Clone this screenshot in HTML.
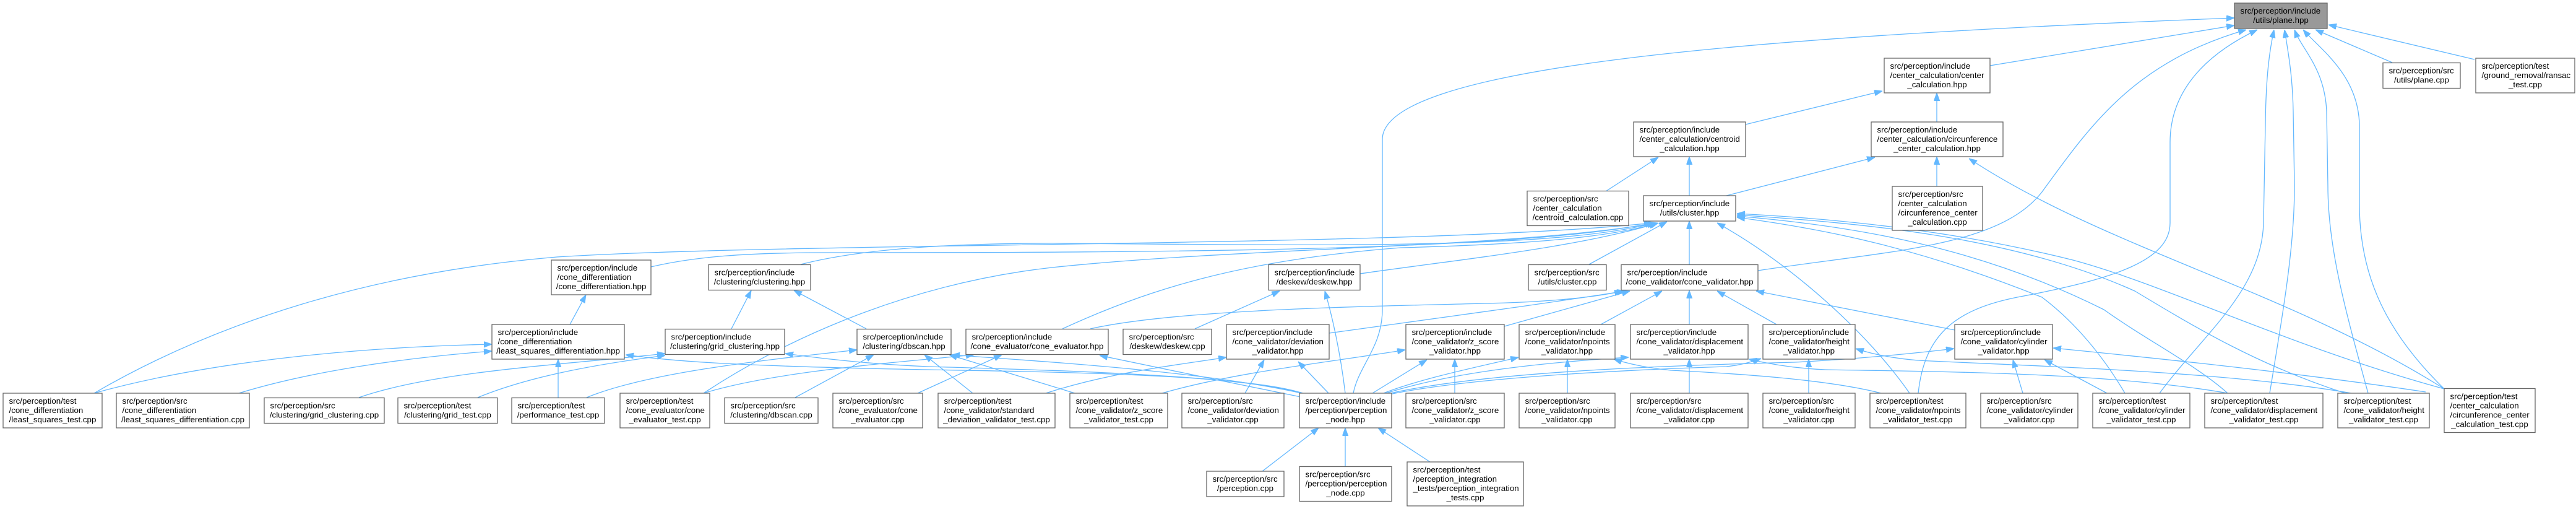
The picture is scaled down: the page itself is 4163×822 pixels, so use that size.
<!DOCTYPE html>
<html><head><meta charset="utf-8"><style>
html,body{margin:0;padding:0;background:#fff;width:4163px;height:822px;overflow:hidden}
svg{display:block}
.n rect{fill:#fff;stroke:#666;stroke-width:1.3}
.n text{font-family:"Liberation Sans",Arial,sans-serif;font-size:13.33px;fill:#000}
.n text.c{text-anchor:middle}
.e path{fill:none;stroke:#63b8ff;stroke-width:1.3}
</style></head><body>
<svg width="4163" height="822" viewBox="0 0 4163 822" xmlns="http://www.w3.org/2000/svg">
<defs><marker id="a" markerWidth="13" markerHeight="10" refX="13" refY="4.7" orient="auto" markerUnits="userSpaceOnUse"><path d="M0,0 L13,4.7 L0,9.4 z" fill="#63b8ff" stroke="#63b8ff" stroke-width="1"/></marker></defs>
<g class="e" marker-end="url(#a)">
<path marker-end="url(#a)" d="M2187,635 C2196,590 2234,560 2234,500 L2234,225 C2234,110 2800,60 3611,29"/>
<path marker-end="url(#a)" d="M3216,106 L3611,41"/>
<path marker-end="url(#a)" d="M2841,437 C3050,405 3230,400 3300,310 C3380,200 3450,100 3630,48"/>
<path marker-end="url(#a)" d="M3100,635 C3110,540 3160,500 3260,480 C3420,450 3507,420 3507,360 L3507,230 C3507,150 3560,90 3648,48"/>
<path marker-end="url(#a)" d="M3490,635 C3560,540 3655,470 3658,360 L3661,200 C3662,120 3668,80 3675,48"/>
<path marker-end="url(#a)" d="M3668,635 C3690,500 3708,400 3708,300 L3706,180 C3705,120 3697,80 3692,48"/>
<path marker-end="url(#a)" d="M3827,635 C3790,500 3762,400 3762,300 L3760,180 C3757,110 3720,80 3708,48"/>
<path marker-end="url(#a)" d="M3950,628 C3860,540 3813,450 3813,330 L3813,200 C3810,120 3750,80 3722,48"/>
<path marker-end="url(#a)" d="M3866,101 L3742,48"/>
<path marker-end="url(#a)" d="M3999,96 L3763,40"/>
<path marker-end="url(#a)" d="M3130,197 L3130,150"/>
<path marker-end="url(#a)" d="M2821,201 L3042,147"/>
<path marker-end="url(#a)" d="M2595,309 L2680,254"/>
<path marker-end="url(#a)" d="M2730,316 L2730,253"/>
<path marker-end="url(#a)" d="M2790,316 L3030,254"/>
<path marker-end="url(#a)" d="M3130,301 L3130,253"/>
<path marker-end="url(#a)" d="M3950,628 C3700,470 3400,400 3182,256"/>
<path marker-end="url(#a)" d="M2568,427 L2694,358"/>
<path marker-end="url(#a)" d="M2730,427 L2730,357"/>
<path marker-end="url(#a)" d="M152,635 C350,520 600,440 900,415 C1300,390 2300,400 2670,360"/>
<path marker-end="url(#a)" d="M1052,431 C1120,415 1200,408 1340,408 C1900,408 2450,405 2672,360"/>
<path marker-end="url(#a)" d="M1294,427 C1400,400 1550,393 1700,393 C2100,395 2500,405 2675,360"/>
<path marker-end="url(#a)" d="M1717,531 C1850,470 2000,420 2264,400 C2450,395 2600,385 2678,360"/>
<path marker-end="url(#a)" d="M2198,442 C2350,420 2550,400 2680,360"/>
<path marker-end="url(#a)" d="M1137,635 C1250,560 1450,460 1700,432 C2000,400 2450,400 2677,360"/>
<path marker-end="url(#a)" d="M3086,635 C3020,540 2900,430 2775,360"/>
<path marker-end="url(#a)" d="M3434,635 C3390,560 3340,510 3300,480 C3100,400 2950,370 2807,351"/>
<path marker-end="url(#a)" d="M3600,635 C3550,590 3470,550 3400,500 C3200,400 3000,365 2807,349"/>
<path marker-end="url(#a)" d="M3790,635 C3650,590 3550,530 3450,470 C3250,380 3000,360 2807,347"/>
<path marker-end="url(#a)" d="M3950,628 C3700,560 3500,460 3350,420 C3150,370 2950,352 2807,345"/>
<path marker-end="url(#a)" d="M2148,538 C2350,510 2500,490 2626,470"/>
<path marker-end="url(#a)" d="M2431,527 L2634,470"/>
<path marker-end="url(#a)" d="M2587,524 L2686,470"/>
<path marker-end="url(#a)" d="M2730,524 L2730,469"/>
<path marker-end="url(#a)" d="M2871,524 L2775,470"/>
<path marker-end="url(#a)" d="M3159,533 L2838,470"/>
<path marker-end="url(#a)" d="M1762,531 C1900,500 2200,495 2400,490 C2500,488 2580,480 2622,470"/>
<path marker-end="url(#a)" d="M1931,531 L2068,470"/>
<path marker-end="url(#a)" d="M2174,635 C2165,560 2150,500 2141,470"/>
<path marker-end="url(#a)" d="M2105,635 C2000,600 1600,600 1400,595 C1200,590 1100,585 1011,573"/>
<path marker-end="url(#a)" d="M2106,635 C2000,605 1700,598 1500,592 C1400,588 1320,578 1269,571"/>
<path marker-end="url(#a)" d="M2108,636 C1950,600 1700,585 1538,573"/>
<path marker-end="url(#a)" d="M2102,641 C2000,620 1850,590 1777,574"/>
<path marker-end="url(#a)" d="M2147,635 L2098,584"/>
<path marker-end="url(#a)" d="M2218,635 L2306,581"/>
<path marker-end="url(#a)" d="M2236,635 C2300,610 2400,590 2454,577"/>
<path marker-end="url(#a)" d="M2240,635 C2350,600 2500,585 2632,577"/>
<path marker-end="url(#a)" d="M2243,636 C2400,600 2700,590 2900,585 C3000,580 3100,570 3158,563"/>
<path marker-end="url(#a)" d="M2245,637 C2400,605 2700,595 2790,592 C2810,590 2830,585 2846,579"/>
<path marker-end="url(#a)" d="M3800,635 C3600,600 3300,592 3100,582 C3050,578 3020,570 2999,563"/>
<path marker-end="url(#a)" d="M3600,635 C3400,600 3100,600 2950,597 C2900,595 2860,588 2826,580"/>
<path marker-end="url(#a)" d="M3040,635 C2950,612 2800,603 2700,598 C2660,594 2630,587 2608,580"/>
<path marker-end="url(#a)" d="M3405,635 L3304,581"/>
<path marker-end="url(#a)" d="M3269,635 L3253,581"/>
<path marker-end="url(#a)" d="M3920,633 C3700,600 3450,575 3318,562"/>
<path marker-end="url(#a)" d="M2923,635 L2923,580"/>
<path marker-end="url(#a)" d="M2730,635 L2730,580"/>
<path marker-end="url(#a)" d="M2533,635 L2533,580"/>
<path marker-end="url(#a)" d="M2351,635 L2351,580"/>
<path marker-end="url(#a)" d="M2012,635 L2043,581"/>
<path marker-end="url(#a)" d="M1690,635 C1800,600 1900,590 1982,577"/>
<path marker-end="url(#a)" d="M1878,635 C2000,600 2150,585 2271,565"/>
<path marker-end="url(#a)" d="M1572,635 L1494,573"/>
<path marker-end="url(#a)" d="M1737,635 L1534,573"/>
<path marker-end="url(#a)" d="M1483,635 L1619,573"/>
<path marker-end="url(#a)" d="M1285,642 L1412,573"/>
<path marker-end="url(#a)" d="M1400,531 L1283,469"/>
<path marker-end="url(#a)" d="M1182,531 L1214,469"/>
<path marker-end="url(#a)" d="M580,642 C700,600 900,590 1075,571"/>
<path marker-end="url(#a)" d="M772,642 C850,610 950,590 1075,574"/>
<path marker-end="url(#a)" d="M902,642 L902,580"/>
<path marker-end="url(#a)" d="M948,642 C1050,600 1250,580 1385,565"/>
<path marker-end="url(#a)" d="M152,635 C350,580 600,560 795,556"/>
<path marker-end="url(#a)" d="M386,635 C500,600 650,578 795,567"/>
<path marker-end="url(#a)" d="M921,524 L947,476"/>
<path marker-end="url(#a)" d="M1137,635 C1250,600 1450,585 1574,573"/>
<path marker-end="url(#a)" d="M2040,761 L2131,691"/>
<path marker-end="url(#a)" d="M2174,753 L2174,691"/>
<path marker-end="url(#a)" d="M2311,746 L2227,691"/>
</g>
<g class="n">
<rect x="3611" y="5" width="150" height="41" style="fill:#999"/>
<text x="3620.5" y="22">src/perception/include</text><text class="c" x="3686" y="37">/utils/plane.hpp</text>

<rect x="3045" y="94" width="171" height="56"/>
<text x="3054.5" y="111">src/perception/include</text><text x="3054.5" y="126">/center_calculation/center</text><text class="c" x="3130.5" y="141">_calculation.hpp</text>

<rect x="3851" y="101.5" width="125" height="41"/>
<text x="3860.5" y="118.5">src/perception/src</text><text class="c" x="3913.5" y="133.5">/utils/plane.cpp</text>

<rect x="4001" y="94" width="160" height="56"/>
<text x="4010.5" y="111">src/perception/test</text><text x="4010.5" y="126">/ground_removal/ransac</text><text class="c" x="4081" y="141">_test.cpp</text>

<rect x="2640" y="197" width="181" height="56"/>
<text x="2649.5" y="214">src/perception/include</text><text x="2649.5" y="229">/center_calculation/centroid</text><text class="c" x="2730.5" y="244">_calculation.hpp</text>

<rect x="3024" y="197" width="213" height="56"/>
<text x="3033.5" y="214">src/perception/include</text><text x="3033.5" y="229">/center_calculation/circunference</text><text class="c" x="3130.5" y="244">_center_calculation.hpp</text>

<rect x="2468" y="308.5" width="164" height="56"/>
<text x="2477.5" y="325.5">src/perception/src</text><text x="2477.5" y="340.5">/center_calculation</text><text class="c" x="2550" y="355.5">/centroid_calculation.cpp</text>

<rect x="2656" y="316" width="149" height="41"/>
<text x="2665.5" y="333">src/perception/include</text><text class="c" x="2730.5" y="348">/utils/cluster.hpp</text>

<rect x="3058" y="301" width="146" height="71"/>
<text x="3067.5" y="318">src/perception/src</text><text x="3067.5" y="333">/center_calculation</text><text x="3067.5" y="348">/circunference_center</text><text class="c" x="3131" y="363">_calculation.cpp</text>

<rect x="891" y="420" width="161" height="56"/>
<text x="900.5" y="437">src/perception/include</text><text x="900.5" y="452">/cone_differentiation</text><text class="c" x="971.5" y="467">/cone_differentiation.hpp</text>

<rect x="1145" y="427.5" width="165" height="41"/>
<text x="1154.5" y="444.5">src/perception/include</text><text class="c" x="1227.5" y="459.5">/clustering/clustering.hpp</text>

<rect x="2050" y="427.5" width="148" height="41"/>
<text x="2059.5" y="444.5">src/perception/include</text><text class="c" x="2124" y="459.5">/deskew/deskew.hpp</text>

<rect x="2470" y="427.5" width="126" height="41"/>
<text x="2479.5" y="444.5">src/perception/src</text><text class="c" x="2533" y="459.5">/utils/cluster.cpp</text>

<rect x="2620" y="427.5" width="221" height="41"/>
<text x="2629.5" y="444.5">src/perception/include</text><text class="c" x="2730.5" y="459.5">/cone_validator/cone_validator.hpp</text>

<rect x="795" y="524" width="214" height="56"/>
<text x="804.5" y="541">src/perception/include</text><text x="804.5" y="556">/cone_differentiation</text><text class="c" x="902" y="571">/least_squares_differentiation.hpp</text>

<rect x="1075" y="531.5" width="193" height="41"/>
<text x="1084.5" y="548.5">src/perception/include</text><text class="c" x="1171.5" y="563.5">/clustering/grid_clustering.hpp</text>

<rect x="1385" y="531.5" width="152" height="41"/>
<text x="1394.5" y="548.5">src/perception/include</text><text class="c" x="1461" y="563.5">/clustering/dbscan.hpp</text>

<rect x="1561" y="531.5" width="230" height="41"/>
<text x="1570.5" y="548.5">src/perception/include</text><text class="c" x="1676" y="563.5">/cone_evaluator/cone_evaluator.hpp</text>

<rect x="1815" y="531.5" width="143" height="41"/>
<text x="1824.5" y="548.5">src/perception/src</text><text class="c" x="1886.5" y="563.5">/deskew/deskew.cpp</text>

<rect x="1982" y="524" width="166" height="56"/>
<text x="1991.5" y="541">src/perception/include</text><text x="1991.5" y="556">/cone_validator/deviation</text><text class="c" x="2065" y="571">_validator.hpp</text>

<rect x="2272" y="524" width="159" height="56"/>
<text x="2281.5" y="541">src/perception/include</text><text x="2281.5" y="556">/cone_validator/z_score</text><text class="c" x="2351.5" y="571">_validator.hpp</text>

<rect x="2455" y="524" width="155" height="56"/>
<text x="2464.5" y="541">src/perception/include</text><text x="2464.5" y="556">/cone_validator/npoints</text><text class="c" x="2532.5" y="571">_validator.hpp</text>

<rect x="2635" y="524" width="190" height="56"/>
<text x="2644.5" y="541">src/perception/include</text><text x="2644.5" y="556">/cone_validator/displacement</text><text class="c" x="2730" y="571">_validator.hpp</text>

<rect x="2849" y="524" width="149" height="56"/>
<text x="2858.5" y="541">src/perception/include</text><text x="2858.5" y="556">/cone_validator/height</text><text class="c" x="2923.5" y="571">_validator.hpp</text>

<rect x="3159" y="524" width="158" height="56"/>
<text x="3168.5" y="541">src/perception/include</text><text x="3168.5" y="556">/cone_validator/cylinder</text><text class="c" x="3238" y="571">_validator.hpp</text>

<rect x="5" y="635" width="160" height="56"/>
<text x="14.5" y="652">src/perception/test</text><text x="14.5" y="667">/cone_differentiation</text><text class="c" x="85" y="682">/least_squares_test.cpp</text>

<rect x="188" y="635" width="215" height="56"/>
<text x="197.5" y="652">src/perception/src</text><text x="197.5" y="667">/cone_differentiation</text><text class="c" x="295.5" y="682">/least_squares_differentiation.cpp</text>

<rect x="427" y="642.5" width="194" height="41"/>
<text x="436.5" y="659.5">src/perception/src</text><text class="c" x="524" y="674.5">/clustering/grid_clustering.cpp</text>

<rect x="643" y="642.5" width="161" height="41"/>
<text x="652.5" y="659.5">src/perception/test</text><text class="c" x="723.5" y="674.5">/clustering/grid_test.cpp</text>

<rect x="827" y="642.5" width="150" height="41"/>
<text x="836.5" y="659.5">src/perception/test</text><text class="c" x="902" y="674.5">/performance_test.cpp</text>

<rect x="1002" y="635" width="145" height="56"/>
<text x="1011.5" y="652">src/perception/test</text><text x="1011.5" y="667">/cone_evaluator/cone</text><text class="c" x="1074.5" y="682">_evaluator_test.cpp</text>

<rect x="1171" y="642.5" width="151" height="41"/>
<text x="1180.5" y="659.5">src/perception/src</text><text class="c" x="1246.5" y="674.5">/clustering/dbscan.cpp</text>

<rect x="1346" y="635" width="145" height="56"/>
<text x="1355.5" y="652">src/perception/src</text><text x="1355.5" y="667">/cone_evaluator/cone</text><text class="c" x="1418.5" y="682">_evaluator.cpp</text>

<rect x="1516" y="635" width="189" height="56"/>
<text x="1525.5" y="652">src/perception/test</text><text x="1525.5" y="667">/cone_validator/standard</text><text class="c" x="1610.5" y="682">_deviation_validator_test.cpp</text>

<rect x="1729" y="635" width="158" height="56"/>
<text x="1738.5" y="652">src/perception/test</text><text x="1738.5" y="667">/cone_validator/z_score</text><text class="c" x="1808" y="682">_validator_test.cpp</text>

<rect x="1910" y="635" width="165" height="56"/>
<text x="1919.5" y="652">src/perception/src</text><text x="1919.5" y="667">/cone_validator/deviation</text><text class="c" x="1992.5" y="682">_validator.cpp</text>

<rect x="2100" y="635" width="149" height="56"/>
<text x="2109.5" y="652">src/perception/include</text><text x="2109.5" y="667">/perception/perception</text><text class="c" x="2174.5" y="682">_node.hpp</text>

<rect x="2272" y="635" width="159" height="56"/>
<text x="2281.5" y="652">src/perception/src</text><text x="2281.5" y="667">/cone_validator/z_score</text><text class="c" x="2351.5" y="682">_validator.cpp</text>

<rect x="2455" y="635" width="155" height="56"/>
<text x="2464.5" y="652">src/perception/src</text><text x="2464.5" y="667">/cone_validator/npoints</text><text class="c" x="2532.5" y="682">_validator.cpp</text>

<rect x="2635" y="635" width="190" height="56"/>
<text x="2644.5" y="652">src/perception/src</text><text x="2644.5" y="667">/cone_validator/displacement</text><text class="c" x="2730" y="682">_validator.cpp</text>

<rect x="2849" y="635" width="149" height="56"/>
<text x="2858.5" y="652">src/perception/src</text><text x="2858.5" y="667">/cone_validator/height</text><text class="c" x="2923.5" y="682">_validator.cpp</text>

<rect x="3022" y="635" width="155" height="56"/>
<text x="3031.5" y="652">src/perception/test</text><text x="3031.5" y="667">/cone_validator/npoints</text><text class="c" x="3099.5" y="682">_validator_test.cpp</text>

<rect x="3201" y="635" width="157" height="56"/>
<text x="3210.5" y="652">src/perception/src</text><text x="3210.5" y="667">/cone_validator/cylinder</text><text class="c" x="3279.5" y="682">_validator.cpp</text>

<rect x="3382" y="635" width="157" height="56"/>
<text x="3391.5" y="652">src/perception/test</text><text x="3391.5" y="667">/cone_validator/cylinder</text><text class="c" x="3460.5" y="682">_validator_test.cpp</text>

<rect x="3563" y="635" width="191" height="56"/>
<text x="3572.5" y="652">src/perception/test</text><text x="3572.5" y="667">/cone_validator/displacement</text><text class="c" x="3658.5" y="682">_validator_test.cpp</text>

<rect x="3778" y="635" width="148" height="56"/>
<text x="3787.5" y="652">src/perception/test</text><text x="3787.5" y="667">/cone_validator/height</text><text class="c" x="3852" y="682">_validator_test.cpp</text>

<rect x="3950" y="627.5" width="147" height="71"/>
<text x="3959.5" y="644.5">src/perception/test</text><text x="3959.5" y="659.5">/center_calculation</text><text x="3959.5" y="674.5">/circunference_center</text><text class="c" x="4023.5" y="689.5">_calculation_test.cpp</text>

<rect x="1950" y="761" width="125" height="41"/>
<text x="1959.5" y="778">src/perception/src</text><text class="c" x="2012.5" y="793">/perception.cpp</text>

<rect x="2100" y="753.5" width="149" height="56"/>
<text x="2109.5" y="770.5">src/perception/src</text><text x="2109.5" y="785.5">/perception/perception</text><text class="c" x="2174.5" y="800.5">_node.cpp</text>

<rect x="2274" y="746" width="188" height="71"/>
<text x="2283.5" y="763">src/perception/test</text><text x="2283.5" y="778">/perception_integration</text><text x="2283.5" y="793">_tests/perception_integration</text><text class="c" x="2368" y="808">_tests.cpp</text>
</g>
</svg>
</body></html>
